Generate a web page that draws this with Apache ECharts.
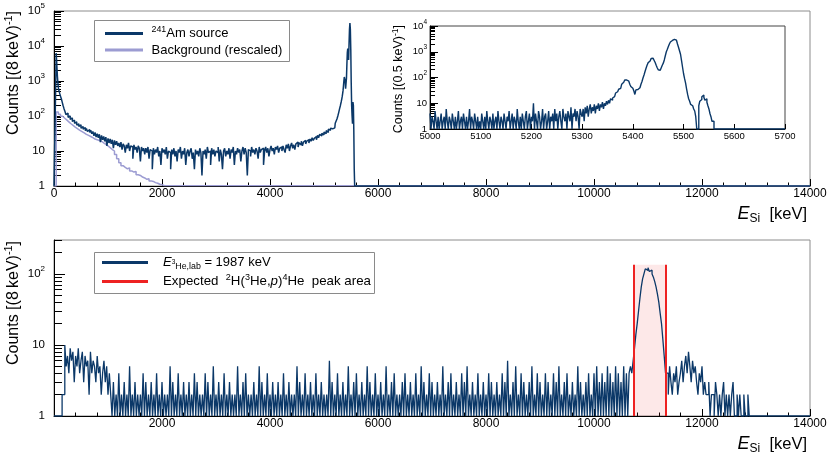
<!DOCTYPE html>
<html><head><meta charset="utf-8">
<script src="https://cdn.jsdelivr.net/npm/echarts@6/dist/echarts.min.js"></script>
<style>html,body{margin:0;padding:0;background:#fff}#c{width:831px;height:459px}</style>
</head><body><div id="c"></div>
<script>
const FONT = '"Liberation Sans", Arial, Helvetica, sans-serif';
const NAVY = '#0b3868';
const LAVENDER = '#9c9cd2';
const RED = '#ee2222';

// axis ranges / tick steps
const energyMin = 0, energyMax = 14000, energyStep = 2000;
const insetMin = 5000, insetMax = 5700, insetStep = 100;
const topCountMax = 1e5, insetCountMax = 1e4, bottomCountMax = 300;

// ---- top panel: 241Am source, counts per 8 keV ----
const amLowStart = 0, amLowWidth = 8;
const amLowCounts = [1,1,1,1,800,6300,4000,2200,1300,900,
  650,560,500,450,410,370,340,310,280,250,
  225,200,180,165,150];
const amMidStart = 200, amMidWidth = 20;
const amMidCounts = [
  140,110,120,92,100,80,88,70,76,62,68,55,60,50,56,45,50,42,47,38,44,36,41,34,39,
  31,36,27,34,25,31,24,30,18,28,21,26,19,25,14,23,17,22,16,21,12,20,15,19,14,
  17,13,18,11,16,14,9,15,12,17,10,14,13,6,15,11,13,9,14,12,5,13,10,12,8,
  12,9,13,6,11,10,3,12,8,11,9,13,7,10,4,12,9,11,8,13,6,10,9,3,11,
  8,12,7,10,5,11,9,13,6,10,8,12,4,9,11,7,10,12,6,9,3,11,8,10,7,
  12,9,2,10,8,11,6,13,9,10,4,12,8,11,7,10,9,13,5,11,8,3,10,12,7,
  10,8,12,6,11,9,13,4,10,8,12,9,11,5,10,13,8,12,9,2,11,10,7,13,9,
  11,8,12,10,6,13,9,11,12,4,10,13,9,12,7,11,14,10,12,8,13,11,14,9,12,
  13,10,14,11,9,15,12,16,10,14,17,12,15,11,16,18,13,17,15,19,14,18,20,16,19,
  21,17,22,19,24,20,23,26,21,28,24,30,27,32,29,35,31,38,34,42,39,45,43,48,46];
const amPeakStart = 5200, amPeakWidth = 8;
const amPeakCounts = [
  50,62,55,70,68,82,80,100,95,125,
  130,160,165,200,225,260,300,350,420,520,
  700,1000,1300,1350,1000,600,650,1200,3000,6500,
  8500,5000,4000,12000,30000,45000,30000,8000,900,200,
  100,60,250,200,40,3,1,1,1,1];

// background (rescaled), counts per 8 keV
const bgStart = 0, bgWidth = 40;
const bgCounts = [1,130,112,98,86,76,67,59,53,47,
  43,39,36,33,30,28,26,24,22,21,
  20,19,17,15.5,14,12.5,11,10,8,6,
  4.6,3.8,3.4,3.1,3.3,2.7,2.5,2.6,2.1,2.0,
  1.8,1.7,1.55,1.6,1.4,1.35,1.25,1.2,1.12,1.08,
  1.04,1];

// inset: counts per 0.5 keV
const fineAStart = 5000, fineAWidth = 2;
const fineACounts = [
  4,1,3,2,1,5,2,1,3,1,2,4,1,2,3,1,6,2,1,3,2,1,4,2,1,
  3,1,2,5,1,2,3,1,4,2,1,3,1,2,6,1,3,2,1,4,2,1,3,1,2,
  1,4,2,1,3,1,5,2,1,3,2,1,4,1,2,3,1,5,2,1,3,2,1,4,2,
  1,3,2,5,1,2,4,1,3,2,1,6,2,1,3,1,4,2,1,3,5,1,2,4,1,
  3,2,10,1,4,2,1,5,3,1,2,6,1,3,4,1,2,5,1,3,2,4,1,6,2,
  4,1,3,5,2,1,6,3,2,4,1,5,3,2,7,1,4,3,6,2,5,3,1,6,4];
const fineBStart = 5300, fineBWidth = 2;
const fineBCounts = [
  3,6,2,7,4,8,3,6,9,4, 7,5,9,4,8,6,10,5,9,7,
  11,6,10,8,12,9,13,10,15,13,
  16,18,21,25,28,31,35,38,45,55, 65,74,80,80,76,72,66,55,45,38,
  34,30,22,33,34,36,40,44,55,70,
  95,125,170,230,300,370,440,510,550,560, 530,460,380,300,240,200,190,200,240,300,
  360,480,700,1000,1250,1600,2000,2400,2750,2950,
  3050,3000,2800,2450,2000,1500,1100,800,450,250, 140,90,60,35,22,15,12,9,8,7,
  6,5,3,1,1,8,12,14,18,21,
  17,13,15,11,8,6,4,3,2,2,1];

// bottom panel: E(3He,lab) = 1987 keV, counts per 8 keV
const labStart = 0, labWidth = 25;
const labCounts = [
  1,1,1,1,1,1,2,2,
  10,5,7,4,9,6,8,3,7,5,9,4,6,8,3,7,5,6,2,8,4,6,5,3,7,4,5,2,4,6,3,5,2,4,
  2,1,3,1,2,1,4,1,2,1,3,1,2,1,5,1,2,1,3,1,2,1,2,1,4,1,3,1,2,1,3,1,
  2,1,4,1,2,1,3,1,2,1,2,1,5,1,3,1,2,1,4,1,2,1,3,1,2,1,3,1,2,1,4,1,
  3,1,2,1,2,1,4,1,3,1,2,1,5,1,2,1,3,1,2,1,4,1,2,1,3,1,2,1,2,1,5,1,
  2,1,3,1,4,1,2,1,2,1,3,1,2,1,5,1,3,1,2,1,4,1,2,1,3,1,2,1,3,1,2,1,
  4,1,2,1,3,1,2,1,2,1,5,1,3,1,2,1,4,1,2,1,3,1,2,1,4,1,2,1,3,1,2,1,
  2,1,6,1,3,1,2,1,4,1,2,1,3,1,2,1,5,1,2,1,3,1,4,1,2,1,3,1,2,1,5,1,
  3,1,2,1,4,1,2,1,3,1,2,1,5,1,2,1,3,1,4,1,2,1,2,1,3,1,4,1,2,1,3,1,
  2,1,4,1,2,1,5,1,3,1,2,1,4,1,3,1,2,1,3,1,2,1,5,1,2,1,3,1,4,1,2,1,
  3,1,2,1,4,1,3,1,5,1,2,1,3,1,2,1,4,1,2,1,3,1,2,1,4,1,3,1,2,1,3,1,
  2,1,4,1,3,1,6,1,2,1,3,1,5,1,2,1,4,1,3,1,2,1,3,1,5,1,2,1,4,1,3,1,
  2,1,4,1,3,1,2,1,4,1,3,1,5,1,2,1,3,1,4,1,2,1,3,1,2,1,5,1,3,1,2,1,
  3,1,4,1,2,1,4,1,5,1,3,1,4,1,3,1,5,1,4,1,3,1,5,1,4,1,3,1,5,1,4,1];
const labPeakStart = 10650, labPeakWidth = 25;
const labPeakCounts = [4,5,4,6,9,14,20,30,45,65,85,100,118,112,122,108,113,100,90,78,65,52,40,28,20,12,7,4];
const labTailStart = 11350, labTailWidth = 25;
const labTailCounts = [
  4,2,5,3,2,4,3,5,2,3,4,6,3,5,7,4,8,5,3,6,4,5,3,2,4,3,5,2,3,2,
  2,3,1,2,2,1,3,2,1,2,1,2,3,1,2,1,2,1,2,3,1,1,2,1,2,1,1,2,1,1,2,1,
  1,1,1,1,1,1,1,1,1,1,1,1,1,1,1,1,1,1,1,1,1,1,1,1,1,1,1,1,1,1,1,1,1,1,1,1,1,1,1,1,1,1];
// expected 2H(3He,p)4He peak area
const peakAreaLow = 10727, peakAreaHigh = 11333, peakAreaTop = 135;

// ---- helpers ----
function histPoints(segments, endEdge, endValue) {
  const pts = [];
  segments.forEach(([start, width, counts]) => {
    counts.forEach((c, i) => pts.push([start + i * width, c]));
  });
  pts.push([endEdge, endValue]);
  return pts;
}
function logMinor(maxDecade) {
  const v = [];
  for (let d = 1; d < maxDecade; d *= 10) for (let k = 2; k <= 9; k++) v.push(Math.log10(k * d));
  return v;
}
function powLabel(v) {
  const e = Math.round(Math.log10(v));
  if (e === 0) return '1';
  if (e === 1) return '10';
  return '{b|10}{s|' + e + '}';
}
function yLog(gridIndex, max, fs, sup, len, margin, showMax) {
  return {
    type: 'log', logBase: 10, gridIndex, min: 1, max, position: 'left',
    axisLine: { show: true, onZero: false, lineStyle: { color: '#000', width: 1 } },
    axisTick: { show: true, inside: true, length: len, lineStyle: { color: '#000' } },
    minorTick: { show: false }, splitLine: { show: false },
    axisLabel: {
      show: true, margin, color: '#000', fontFamily: FONT, fontSize: fs,
      showMaxLabel: showMax, showMinLabel: true, formatter: powLabel,
      rich: {
        b: { fontSize: fs, lineHeight: fs * 1.6, fontFamily: FONT, color: '#000' },
        s: { fontSize: sup, lineHeight: sup, verticalAlign: 'top', fontFamily: FONT, color: '#000' }
      }
    }
  };
}
// minor log ticks drawn on a hidden linear axis that spans log10 of the count range
function yMinor(gridIndex, max, len, values) {
  return {
    type: 'value', gridIndex, min: 0, max: Math.log10(max), position: 'left', offset: 0,
    axisLine: { show: false, onZero: false }, axisLabel: { show: false }, splitLine: { show: false },
    axisTick: { show: true, inside: true, length: len, customValues: values, lineStyle: { color: '#000' } }
  };
}
function xVal(gridIndex, min, max, interval, fs, margin, hideZero, minorSplit, len) {
  return {
    type: 'value', gridIndex, min, max, interval, position: 'bottom',
    axisLine: { show: true, onZero: false, lineStyle: { color: '#000', width: 1 } },
    axisTick: { show: true, inside: true, length: len, lineStyle: { color: '#000' } },
    minorTick: { show: minorSplit > 0, splitNumber: minorSplit || 5, length: len / 2, lineStyle: { color: '#000' } },
    splitLine: { show: false },
    axisLabel: {
      show: true, margin, color: '#000', fontFamily: FONT, fontSize: fs,
      showMinLabel: true, showMaxLabel: true,
      formatter: v => (hideZero && v === 0) ? '' : String(v)
    }
  };
}

const amData = histPoints([[amLowStart, amLowWidth, amLowCounts], [amMidStart, amMidWidth, amMidCounts], [amPeakStart, amPeakWidth, amPeakCounts]], energyMax, 1);
const bgData = histPoints([[bgStart, bgWidth, bgCounts]], energyMax, 1);
const fineData = histPoints([[fineAStart, fineAWidth, fineACounts], [fineBStart, fineBWidth, fineBCounts]], insetMax, 1);
const labData = histPoints([[labStart, labWidth, labCounts], [labPeakStart, labPeakWidth, labPeakCounts], [labTailStart, labTailWidth, labTailCounts]], energyMax, 1);

const histLine = (name, xi, yi, data, color, width, z) => ({
  name, type: 'line', xAxisIndex: xi, yAxisIndex: yi, data, step: 'end',
  symbol: 'none', showSymbol: false, clip: true, z, silent: true,
  lineStyle: { color, width }, emphasis: { disabled: true }
});

// text helpers
const baseRich = (fs) => ({
  n: { fontSize: fs, lineHeight: fs * 1.3, fontFamily: FONT, fill: '#000' },
  i: { fontSize: fs, lineHeight: fs * 1.3, fontFamily: FONT, fontStyle: 'italic', fill: '#000' },
  sup: { fontSize: fs * 0.68, lineHeight: fs * 0.68, verticalAlign: 'top', fontFamily: FONT, fill: '#000' },
  sub: { fontSize: fs * 0.68, lineHeight: fs * 0.68, verticalAlign: 'bottom', fontFamily: FONT, fill: '#000' },
  s3: { fontSize: fs * 0.5, lineHeight: fs * 0.5, verticalAlign: 'middle', fontFamily: FONT, fill: '#000' }
});
function txt(x, y, text, fs, extra) {
  return Object.assign({
    type: 'text', x, y, z: 100, silent: true,
    style: { text, rich: baseRich(fs), fill: '#000', fontFamily: FONT, fontSize: fs, align: 'left', verticalAlign: 'middle' }
  }, extra || {});
}
function vtitle(x, y, text, fs) {
  const t = txt(x, y, text, fs, { rotation: Math.PI / 2 });
  t.style.align = 'right';
  return t;
}
function eLabel(x, y) {
  return {
    type: 'text', x, y, z: 100, silent: true,
    style: {
      text: '{e|E}{s|Si}{n|  [keV]}', align: 'right', verticalAlign: 'middle', fontFamily: FONT,
      rich: {
        e: { fontSize: 18, lineHeight: 22, fontStyle: 'italic', fontFamily: FONT, fill: '#000' },
        s: { fontSize: 12, lineHeight: 12, verticalAlign: 'bottom', fontFamily: FONT, fill: '#000' },
        n: { fontSize: 16.5, lineHeight: 22, fontFamily: FONT, fill: '#000' }
      }
    }
  };
}
const legendBox = (x, y, w, h) => ({ type: 'rect', z: 99, silent: true, shape: { x, y, width: w, height: h }, style: { fill: '#fff', stroke: '#8a8a8a', lineWidth: 1 } });
const legendLine = (x1, x2, y, color) => ({ type: 'line', z: 100, silent: true, shape: { x1, y1: y, x2, y2: y }, style: { stroke: color, lineWidth: 3 } });

const option = {
  animation: false,
  backgroundColor: '#fff',
  grid: [
    { left: 54, top: 11, width: 756, height: 175, show: true, borderColor: '#8c8c8c', borderWidth: 1, containLabel: false, outerBoundsMode: 'none' },
    { left: 430, top: 26, width: 355, height: 103, show: true, borderColor: '#444', borderWidth: 1, backgroundColor: '#fff', containLabel: false, outerBoundsMode: 'none' },
    { left: 54, top: 240, width: 756, height: 176, show: true, borderColor: '#8c8c8c', borderWidth: 1, containLabel: false, outerBoundsMode: 'none' }
  ],
  xAxis: [
    xVal(0, energyMin, energyMax, energyStep, 12, 2, false, 5, 7),
    xVal(1, insetMin, insetMax, insetStep, 9.5, 2, false, 0, 5),
    xVal(2, energyMin, energyMax, energyStep, 12, 2, true, 5, 7)
  ],
  yAxis: [
    yLog(0, topCountMax, 11.5, 8, 10, 9, true),
    yLog(1, insetCountMax, 9.5, 6.5, 8, 3, true),
    yLog(2, bottomCountMax, 11.5, 8, 11, 9, false),
    yMinor(0, topCountMax, 7, logMinor(topCountMax)),
    yMinor(1, insetCountMax, 5, logMinor(insetCountMax)),
    yMinor(2, bottomCountMax, 8, logMinor(1000).filter(v => v <= Math.log10(bottomCountMax)))
  ],
  series: [
    histLine('Background (rescaled)', 0, 0, bgData, LAVENDER, 1.5, 2),
    histLine('241Am source', 0, 0, amData, NAVY, 1.5, 3),
    histLine('241Am source (0.5 keV)', 1, 1, fineData, NAVY, 1.4, 3),
    {
      name: 'peak area fill', type: 'line', xAxisIndex: 2, yAxisIndex: 2, data: [], z: 1, silent: true,
      markArea: { silent: true, itemStyle: { color: 'rgba(238,34,34,0.1)' },
        data: [[{ coord: [peakAreaLow, 1] }, { coord: [peakAreaHigh, peakAreaTop] }]] }
    },
    histLine('E3He,lab = 1987 keV', 2, 2, labData, NAVY, 1.3, 3),
    {
      name: 'Expected peak area', type: 'line', xAxisIndex: 2, yAxisIndex: 2, data: [], z: 4, silent: true,
      markLine: { silent: true, symbol: ['none', 'none'], label: { show: false },
        lineStyle: { color: RED, width: 2, type: 'solid' },
        data: [
          [{ coord: [peakAreaLow, 1] }, { coord: [peakAreaLow, peakAreaTop] }],
          [{ coord: [peakAreaHigh, 1] }, { coord: [peakAreaHigh, peakAreaTop] }]
        ] }
    }
  ],
  graphic: [
    vtitle(14, 11, '{n|Counts [(8\u2009keV)}{sup|-1}{n|]}', 16),
    vtitle(399, 25, '{n|Counts [(0.5 keV)}{sup|-1}{n|]}', 12.5),
    vtitle(14, 241, '{n|Counts [(8\u2009keV)}{sup|-1}{n|]}', 16),
    eLabel(807, 214),
    eLabel(807, 444),
    legendBox(94.5, 20.5, 195, 41),
    legendLine(105, 143, 33.5, NAVY),
    legendLine(105, 143, 50, LAVENDER),
    txt(151.5, 33.5, '{sup|241}{n|Am source}', 13),
    txt(151.5, 50, '{n|Background (rescaled)}', 13),
    legendBox(94.5, 252.5, 280, 41),
    legendLine(102, 148, 262.5, NAVY),
    legendLine(102, 148, 281.5, RED),
    txt(163, 262.5, '{i|E}{s3|3}{sub|He,lab}{n| = 1987 keV}', 13),
    txt(163, 281.5, '{n|Expected  }{sup|2}{n|H(}{sup|3}{n|He,}{i|p}{n|)}{sup|4}{n|He  peak area}', 13.3)
  ]
};
const chart = echarts.init(document.getElementById('c'), null, { renderer: 'canvas', width: 831, height: 459 });
chart.setOption(option);
</script>
</body></html>
